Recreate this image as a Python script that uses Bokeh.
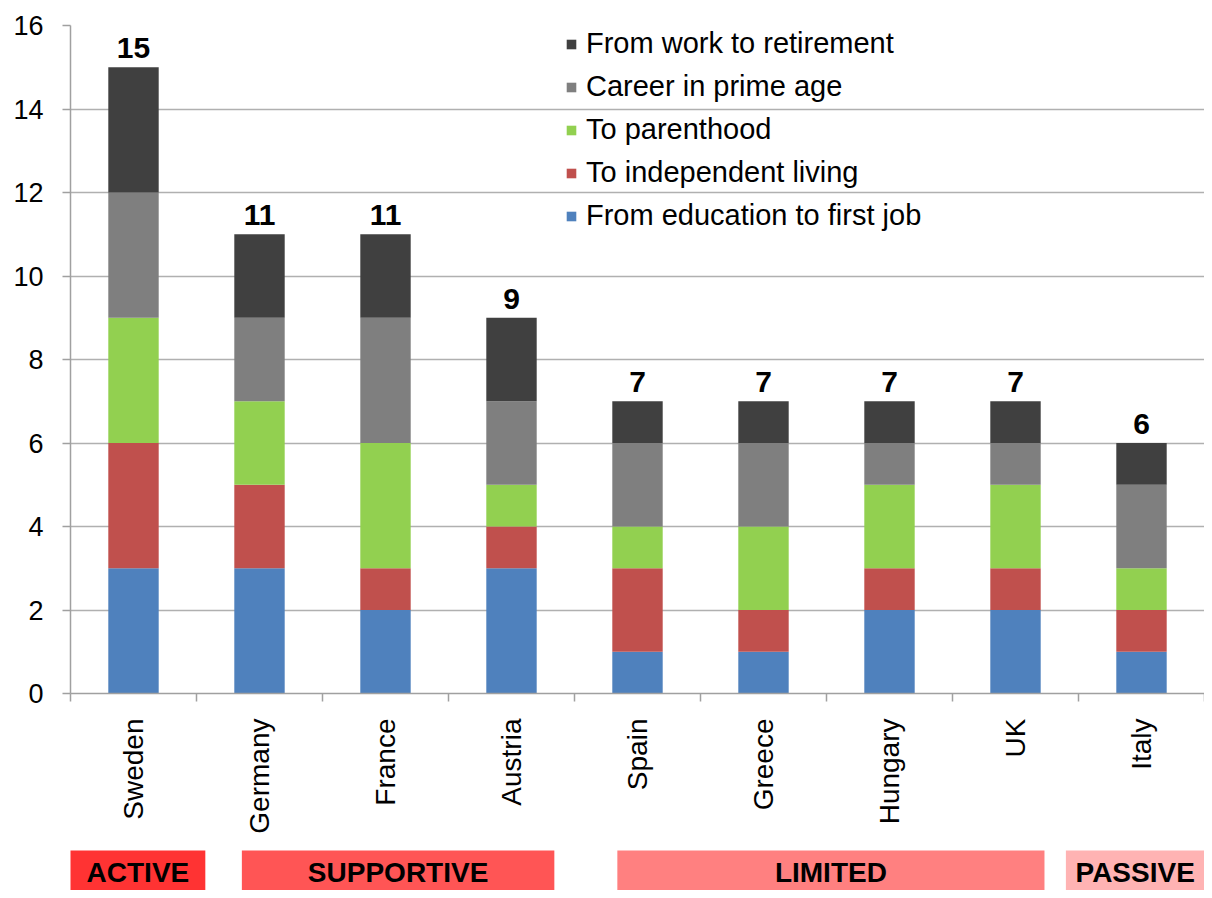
import math
from bokeh.plotting import figure
from bokeh.models import Range1d, FixedTicker, Legend, LegendItem, ColumnDataSource
from bokeh.layouts import column
from bokeh.core.properties import value
from bokeh.embed import file_html
from bokeh.resources import INLINE

# ---------------- data ----------------
countries = ["Sweden", "Germany", "France", "Austria", "Spain", "Greece", "Hungary", "UK", "Italy"]
edu_first_job = [3, 3, 2, 3, 1, 1, 2, 2, 1]
independent_living = [3, 2, 1, 1, 2, 1, 1, 1, 1]
parenthood = [3, 2, 3, 1, 1, 2, 2, 2, 1]
career_prime = [3, 2, 3, 2, 2, 2, 1, 1, 2]
work_retirement = [3, 2, 2, 2, 1, 1, 1, 1, 1]

series_names = ["From education to first job", "To independent living", "To parenthood",
                "Career in prime age", "From work to retirement"]
series_colors = ["#4F81BD", "#C0504D", "#92D050", "#7F7F7F", "#404040"]

groups = ["ACTIVE", "SUPPORTIVE", "LIMITED", "PASSIVE"]
group_left = [-0.09, 1.36, 4.34, 7.90]     # in category units
group_right = [1.07, 3.84, 7.73, 9.20]
group_colors = ["#FF3333", "#FF5555", "#FF8080", "#FFB3B3"]

yticks = [0, 2, 4, 6, 8, 10, 12, 14, 16]

# ---------------- layout constants ----------------
FONT = "Liberation Sans"
W = 1204
H1, H2 = 845, 45
BL, BR, BT, BB = 70, 0, 25, 152

n = len(countries)
xs = [i + 0.5 for i in range(n)]
totals = [a + b + c + d + e for a, b, c, d, e in
          zip(edu_first_job, independent_living, parenthood, career_prime, work_retirement)]

src = ColumnDataSource(dict(
    x=xs, country=countries,
    s0=edu_first_job, s1=independent_living, s2=parenthood, s3=career_prime, s4=work_retirement,
    total=totals, total_txt=[str(t) for t in totals],
))

xr = Range1d(0, n)
p = figure(width=W, height=H1, output_backend="svg", toolbar_location=None,
           x_range=xr, y_range=Range1d(0, 16),
           min_border_left=BL, min_border_right=BR, min_border_top=BT, min_border_bottom=BB)
p.outline_line_color = None
p.background_fill_color = "white"

rs = p.vbar_stack(["s0", "s1", "s2", "s3", "s4"], x="x", width=0.4, color=series_colors,
                  line_color=None, source=src)

p.text(x="x", y="total", text="total_txt", source=src, text_align="center",
       text_baseline="bottom", y_offset=-9, text_font=value(FONT), text_font_size="30px",
       text_font_style="bold", text_color="black")

# axes
xa = p.xaxis[0]
xa.ticker = FixedTicker(ticks=xs, minor_ticks=list(range(n + 1)))
xa.major_label_overrides = {x: c for x, c in zip(xs, countries)}
xa.major_label_orientation = math.pi / 2
xa.major_tick_line_color = None
xa.major_tick_out = 8
xa.major_tick_in = 0
xa.minor_tick_out = 8
xa.minor_tick_in = 0
xa.minor_tick_line_color = "#A0A0A0"
xa.minor_tick_line_width = 1.5
xa.axis_line_color = "#A0A0A0"
xa.axis_line_width = 1.5
xa.major_label_standoff = 17
xa.major_label_text_font = FONT
xa.major_label_text_font_size = "28px"
xa.major_label_text_color = "black"

ya = p.yaxis[0]
ya.ticker = FixedTicker(ticks=yticks)
ya.minor_tick_line_color = None
ya.major_tick_out = 8
ya.major_tick_in = 0
ya.major_tick_line_color = "#A0A0A0"
ya.major_tick_line_width = 1.5
ya.axis_line_color = "#A0A0A0"
ya.axis_line_width = 1.5
ya.major_label_standoff = 19
ya.major_label_text_font = FONT
ya.major_label_text_font_size = "27px"
ya.major_label_text_color = "black"

p.xgrid.visible = False
p.ygrid.ticker = FixedTicker(ticks=yticks)
p.ygrid.grid_line_color = "#B0B0B0"
p.ygrid.grid_line_width = 1.3

items = [LegendItem(label=nm, renderers=[r]) for nm, r in zip(series_names, rs)][::-1]
legend = Legend(items=items, location=(495, 461), orientation="vertical",
                glyph_width=12, glyph_height=12, label_height=33, spacing=10,
                label_standoff=9, padding=0, margin=0,
                label_text_font=FONT, label_text_font_size="29px", label_text_color="black",
                border_line_color=None, background_fill_alpha=0)
p.add_layout(legend)

# ---------------- group strip (below the chart) ----------------
vis_l = [max(l, 0) for l in group_left]
vis_r = [min(r, n) for r in group_right]
gsrc = ColumnDataSource(dict(
    left=group_left, right=group_right, color=group_colors, name=groups,
    cx=[(a + b) / 2 for a, b in zip(vis_l, vis_r)],
))
g = figure(width=W, height=H2, output_backend="svg", toolbar_location=None,
           x_range=xr, y_range=Range1d(0, H2),
           min_border_left=BL, min_border_right=BR, min_border_top=0, min_border_bottom=0)
g.outline_line_color = None
g.axis.visible = False
g.grid.visible = False
g.quad(left="left", right="right", bottom=0, top=40, color="color", line_color=None, source=gsrc)
g.text(x="cx", y=18, text="name", source=gsrc, text_align="center", text_baseline="middle",
       text_font=value(FONT), text_font_size="28px", text_font_style="bold", text_color="black")

layout = column(p, g, spacing=0)
open("out.html", "w").write(file_html(layout, INLINE))
